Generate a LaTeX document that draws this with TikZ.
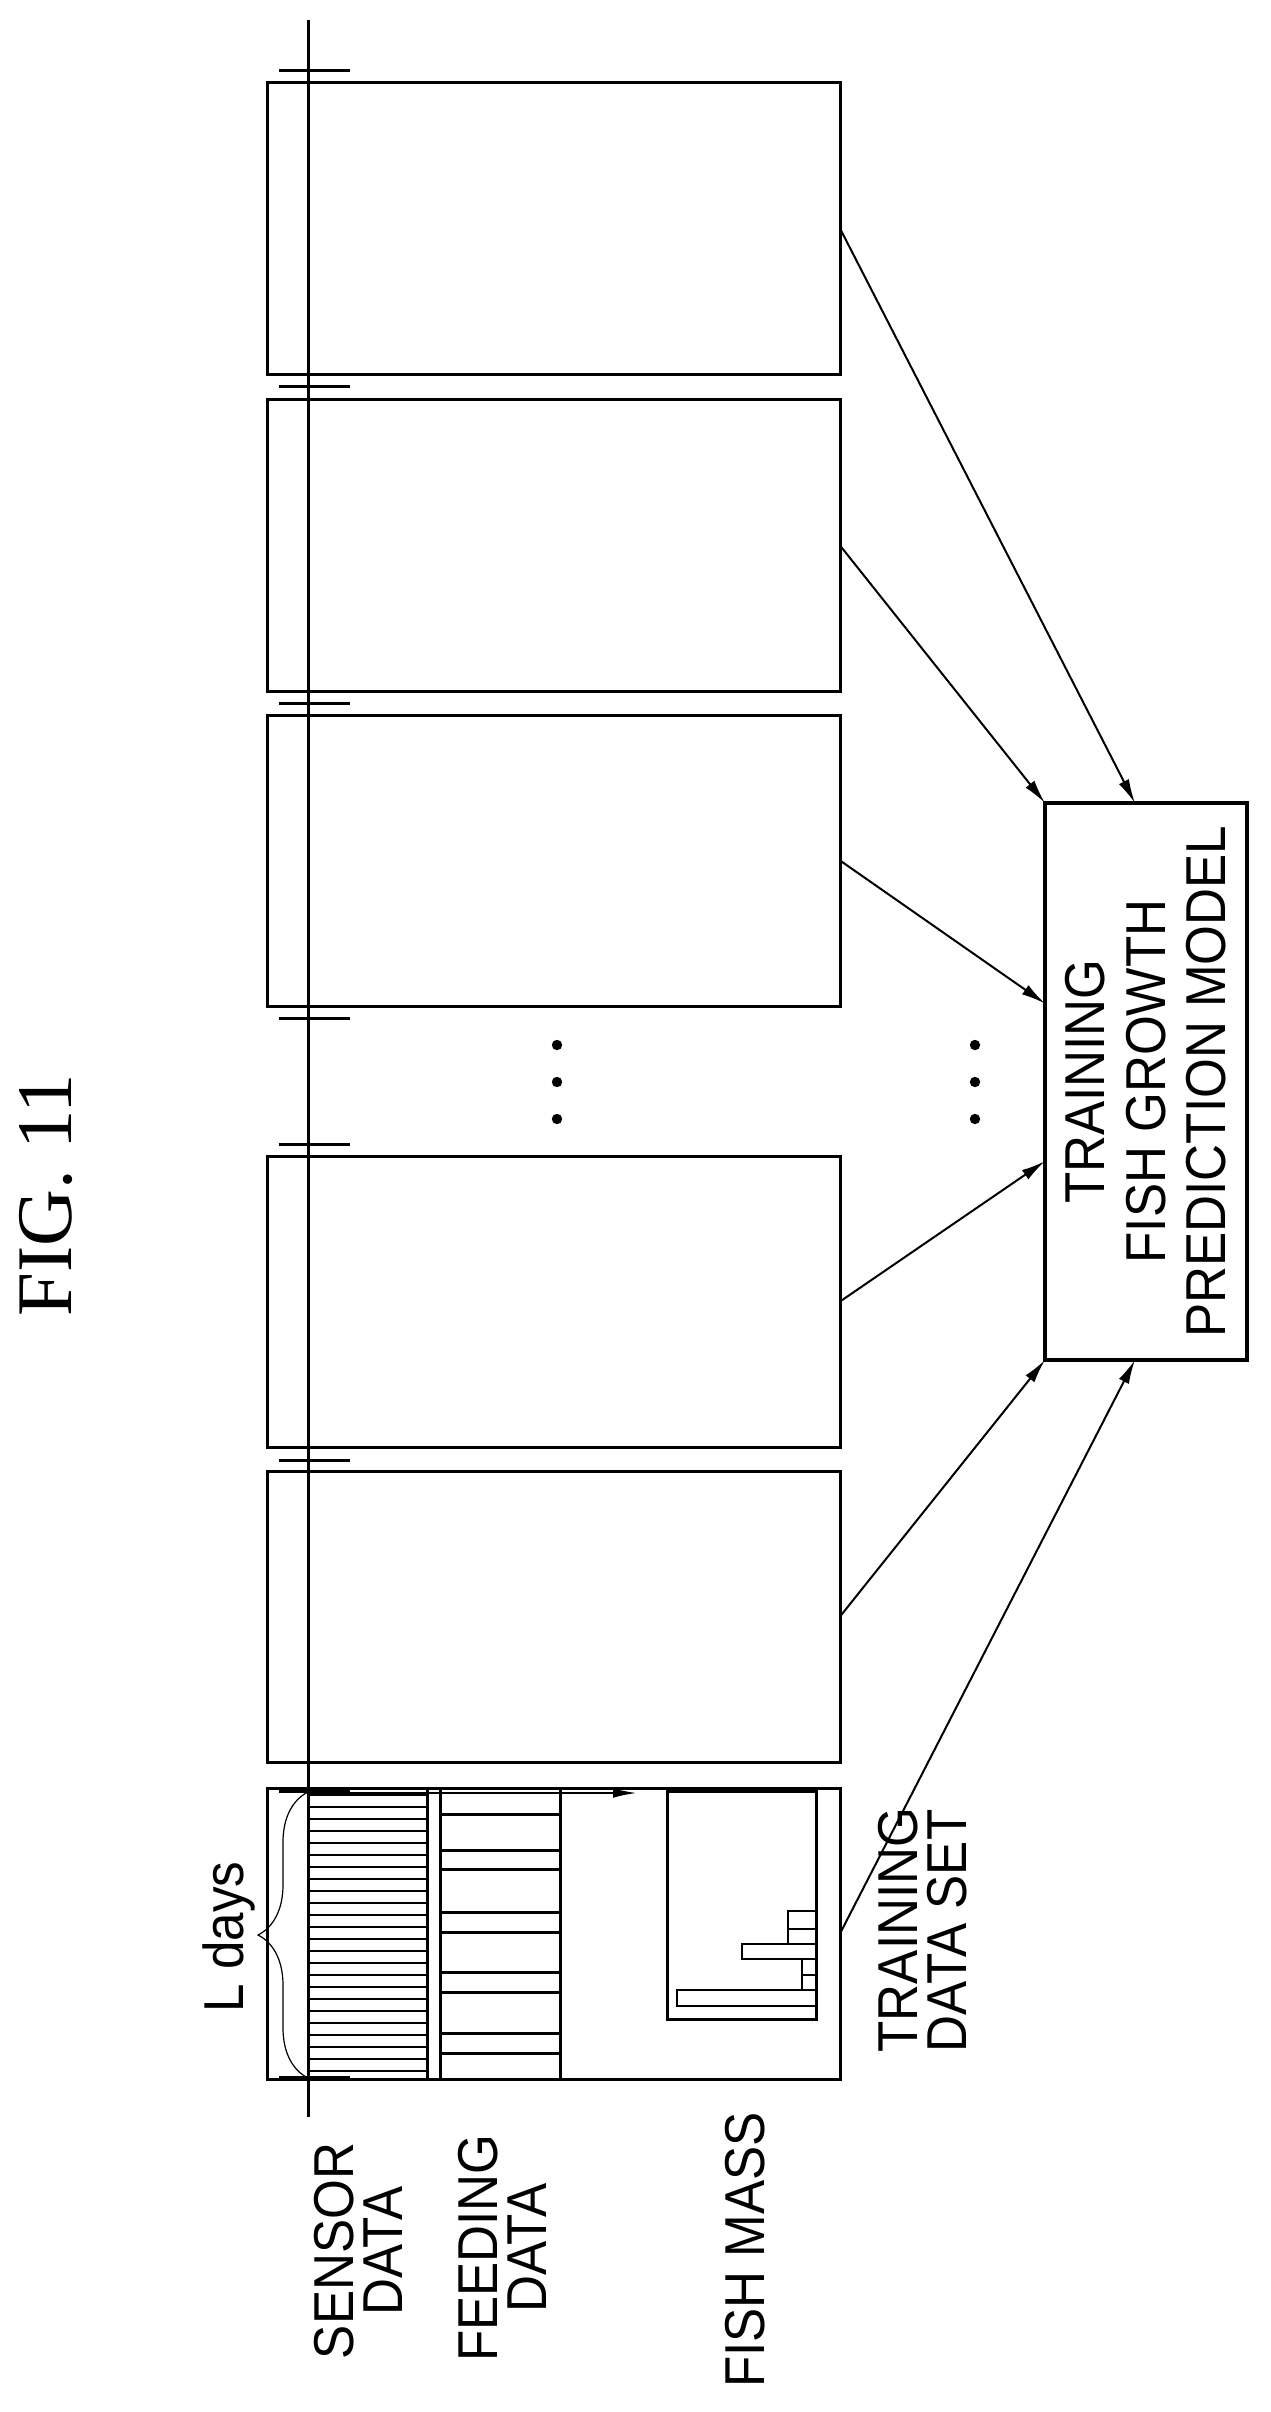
\documentclass[tikz,border=0pt]{standalone}
\usepackage{fontspec}
\usetikzlibrary{arrows.meta, calc, decorations.pathreplacing}
\newfontfamily\lblfont{Liberation Sans}[FakeStretch=0.91]
\newfontfamily\figfont{Liberation Serif}
\tikzset{
    % --- boxes ---
    databox/.style={
        draw, line width=0.75mm, anchor=north west,
        minimum width=143.25mm, minimum height=72.75mm,
        inner sep=0pt, outer sep=0pt
    },
    modelbox/.style={
        draw, line width=1mm, rotate=90,
        minimum width=139.25mm, minimum height=50.5mm,
        align=center, inner sep=0pt, outer sep=0pt,
        font=\lblfont\fontsize{40}{43}\selectfont
    },
    lbl/.style={
        rotate=90, align=center, inner sep=0pt,
        font=\lblfont\fontsize{40}{35}\selectfont
    },
    % --- lines ---
    axis/.style={line width=0.75mm},
    tick/.style={line width=0.75mm},
    stripe/.style={line width=0.7mm},
    conn/.style={line width=0.5mm, -{Latex[length=6mm, width=2.8mm]}},
    dot/.style={circle, fill, inner sep=0pt, minimum size=2.6mm}
}

\begin{document}
\begin{tikzpicture}[x=0.25mm, y=-0.25mm]
	\useasboundingbox (0,0) rectangle (1270,2412);

	% title
	\node [rotate=90, font=\figfont\fontsize{56}{60}\selectfont, inner sep=0pt] (fig) at (46,1195) {FIG. 11};

	% data windows
	\node [databox] (b1) at (267,83) {};
	\node [databox] (b2) at (267,400) {};
	\node [databox] (b3) at (267,715) {};
	\node [databox] (b4) at (267,1156) {};
	\node [databox] (b5) at (267,1471) {};
	\node [databox] (b6) at (267,1788) {};

	% time axis
	\draw [axis] (308,20) -- (308,2117);
	\foreach \ty in {71,387,703,1018,1144,1460,1791,2077}
		\draw [tick] (279,\ty) -- (350,\ty);

	% sensor data stripes
	\foreach \k in {0,...,23}
		\draw [stripe] (308,1795+12*\k) -- (426,1795+12*\k);
	\draw [tick] (427,1790) -- (427,2080);
	\draw [tick] (440,1790) -- (440,2080);
	\draw [tick] (560,1790) -- (560,2080);

	% feeding data
	\foreach \fy in {1814,1850,1869,1912,1932,1972,1992,2033,2053}
		\draw [tick] (440,\fy) -- (560,\fy);

	% time arrow
	\draw [line width=0.5mm, -{Latex[length=6mm, width=2.4mm]}] (308,1793) -- (637,1793);

	% fish mass histogram
	\draw [tick] (667,1791) rectangle (816,2019);
	\draw [stripe] (677,1990) rectangle (816,2006);
	\draw [stripe] (742,1944) rectangle (816,1959);
	\draw [stripe] (788,1911) rectangle (816,1929);
	\draw [stripe] (788,1929) rectangle (816,1944);
	\draw [stripe] (802,1959) rectangle (816,1990);
	\draw [line width=0.3mm] (802,1975) -- (816,1975);

	% L days brace
	\draw [line width=0.3mm, decorate, decoration={brace, amplitude=12.5mm}] (308,2078) -- (308,1792);
	\node [lbl] (ldays) at (229,1937) {L days};

	% row labels
	\node [lbl] (sensor) at (358,2251) {SENSOR\\DATA};
	\node [lbl] (feeding) at (502,2248) {FEEDING\\DATA};
	\node [lbl] (mass) at (745,2250) {FISH MASS};
	\node [lbl, align=left] (trainset) at (923,1930) {TRAINING\\DATA SET};

	% model
	\node [modelbox] (model) at (1146,1081.5) {TRAINING\\FISH GROWTH\\PREDICTION MODEL};

	% ellipsis
	\foreach \dy in {1045,1082,1119} {
		\node [dot] at (557,\dy) {};
		\node [dot] at (975,\dy) {};
	}

	% connectors
	\draw [conn] (b1.east) -- ($(model.north east)!0.445!(model.south east)$);
	\draw [conn] (b2.east) -- (model.north east);
	\draw [conn] (b3.east) -- ($(model.north east)!0.36!(model.north west)$);
	\draw [conn] (b4.east) -- ($(model.north east)!0.643!(model.north west)$);
	\draw [conn] (b5.east) -- (model.north west);
	\draw [conn] (b6.east) -- ($(model.north west)!0.445!(model.south west)$);

\end{tikzpicture}
\end{document}
